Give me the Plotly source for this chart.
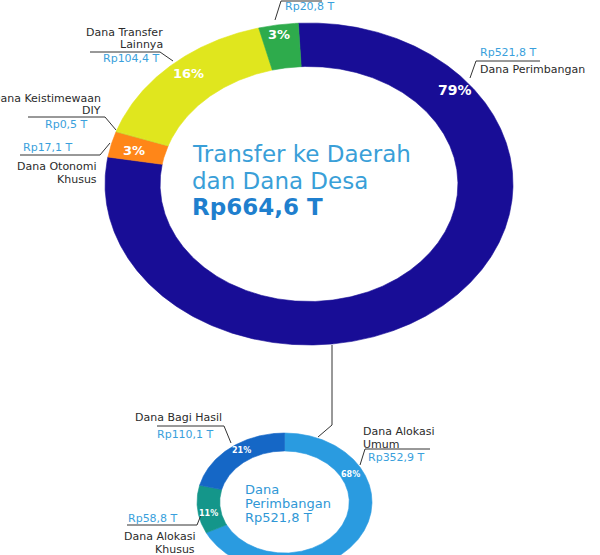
import numpy as np
import plotly.graph_objects as go

# ---------------- data ----------------
main_labels = ["Dana Perimbangan", "Dana Otonomi Khusus", "Dana Keistimewaan DIY",
               "Dana Transfer Lainnya", "Dana Desa"]
main_values = [521.8, 17.1, 0.5, 104.4, 20.8]
main_colors = ["#180d96", "#ff8618", "#c8d62a", "#e0e61e", "#2eab4c"]

sub_labels = ["Dana Alokasi Umum", "Dana Alokasi Khusus", "Dana Bagi Hasil"]
sub_values = [352.9, 58.8, 110.1]
sub_colors = ["#2a9be0", "#14968a", "#1567c6"]

main_total = sum(main_values)
sub_total = sum(sub_values)


def rp(v):
    return ("Rp%.1f T" % v).replace(".", ",")


def pct(v, tot):
    return "%d%%" % round(v / tot * 100)


# ---------------- geometry helpers ----------------
def ring(values, cx, cy, rx, ry, hole, start):
    tot = sum(values)
    out = []
    a = start
    for v in values:
        span = v / tot * 360.0
        th = np.radians(np.linspace(a, a + span, max(int(span * 3), 2)))
        xo = cx + rx * np.sin(th)
        yo = cy - ry * np.cos(th)
        xi = cx + rx * hole * np.sin(th[::-1])
        yi = cy - ry * hole * np.cos(th[::-1])
        xs = np.concatenate([xo, xi, xo[:1]])
        ys = np.concatenate([yo, yi, yo[:1]])
        out.append((xs, ys))
        a += span
    return out


fig = go.Figure()

for (xs, ys), c, lab in zip(ring(main_values, 309, 184, 204, 161, 0.73, -3),
                            main_colors, main_labels):
    fig.add_trace(go.Scatter(x=xs, y=ys, fill="toself", fillcolor=c, mode="lines",
                             line=dict(color=c, width=0.6), name=lab, hoverinfo="name"))

for (xs, ys), c, lab in zip(ring(sub_values, 284.5, 502, 87.5, 69, 0.74, 0),
                            sub_colors, sub_labels):
    fig.add_trace(go.Scatter(x=xs, y=ys, fill="toself", fillcolor=c, mode="lines",
                             line=dict(color=c, width=0.6), name=lab, hoverinfo="name"))

F = "DejaVu Sans"
DARK = "#2b2b2b"
BLUE = "#3a9fdc"

ann = []


def txt(x, y, s, size=11, color=DARK, anchor="left", bold=False):
    ann.append(dict(x=x, y=y, xref="x", yref="y", text=("<b>%s</b>" % s) if bold else s,
                    showarrow=False, xanchor=anchor, yanchor="middle",
                    font=dict(family=F, size=size, color=color)))


# percentages on big ring
txt(455, 90, pct(main_values[0], main_total), 14, "white", "center", True)
txt(134, 150, pct(main_values[1], main_total), 13, "white", "center", True)
txt(188, 73, pct(main_values[3], main_total), 13, "white", "center", True)
txt(279, 34, pct(main_values[4], main_total), 13, "white", "center", True)

# percentages on small ring
txt(350, 474, pct(sub_values[0], sub_total), 8, "white", "center", True)
txt(208, 513, pct(sub_values[1], sub_total), 8, "white", "center", True)
txt(241, 450, pct(sub_values[2], sub_total), 8, "white", "center", True)

# center texts
txt(190, 154, "Transfer ke Daerah", 23, "#3a9fd8")
txt(190, 181, "dan Dana Desa", 23, "#3a9fd8")
txt(190, 207, rp(main_total), 23, "#1f7fce", bold=True)

txt(243, 489, "Dana", 13, "#2f97d6")
txt(243, 503, "Perimbangan", 13, "#2f97d6")
txt(243, 517, rp(sub_total), 13, "#2f97d6")

# outer labels, big ring
txt(478, 52, rp(main_values[0]), 11, BLUE)
txt(478, 69, "Dana Perimbangan", 11, DARK)
txt(283, 6, rp(main_values[4]), 11, BLUE)
txt(165, 32, "Dana Transfer", 11, DARK, "right")
txt(165, 44, "Lainnya", 11, DARK, "right")
txt(162, 58, rp(main_values[3]), 11, BLUE, "right")
txt(103, 98, "Dana Keistimewaan", 11, DARK, "right")
txt(103, 110, "DIY", 11, DARK, "right")
txt(90, 124, rp(main_values[2]), 11, BLUE, "right")
txt(21, 147, rp(main_values[1]), 11, BLUE)
txt(99, 166, "Dana Otonomi", 11, DARK, "right")
txt(99, 179, "Khusus", 11, DARK, "right")

# outer labels, small ring
txt(224, 417, "Dana Bagi Hasil", 11, DARK, "right")
txt(155, 434, rp(sub_values[2]), 11, BLUE)
txt(361, 431, "Dana Alokasi", 11, DARK)
txt(361, 444, "Umum", 11, DARK)
txt(366, 457, rp(sub_values[0]), 11, BLUE)
txt(126, 518, rp(sub_values[1]), 11, BLUE)
txt(197, 536, "Dana Alokasi", 11, DARK, "right")
txt(197, 549, "Khusus", 11, DARK, "right")

# leader lines
paths = [
    [(540, 61), (476, 61), (470, 78)],
    [(322, 1), (281, 1), (275, 20)],
    [(90, 52), (160, 52), (173, 61)],
    [(28, 117), (105, 117), (116, 130)],
    [(20, 155), (100, 155), (110, 143)],
    [(332, 345), (332, 425), (318, 437)],
    [(157, 426), (224, 426), (231, 443)],
    [(430, 449), (365, 449), (360, 465)],
    [(127, 525), (197, 525), (201, 515)],
]
shapes = []
for p in paths:
    d = "M %g,%g " % p[0] + " ".join("L %g,%g" % q for q in p[1:])
    shapes.append(dict(type="path", path=d, xref="x", yref="y",
                       line=dict(color="#333333", width=1)))

fig.update_layout(
    width=600, height=555, autosize=False,
    margin=dict(l=0, r=0, t=0, b=0),
    paper_bgcolor="white", plot_bgcolor="white",
    showlegend=False,
    xaxis=dict(range=[0, 600], visible=False, fixedrange=True),
    yaxis=dict(range=[555, 0], visible=False, fixedrange=True),
    annotations=ann, shapes=shapes,
)

# remove the browser's default 8px body margin so the figure sits at (0, 0)
fig.write_html("out.html",
               config={"displayModeBar": False},
               post_script="document.body.style.margin='0';"
                           "document.documentElement.style.overflow='hidden';")
